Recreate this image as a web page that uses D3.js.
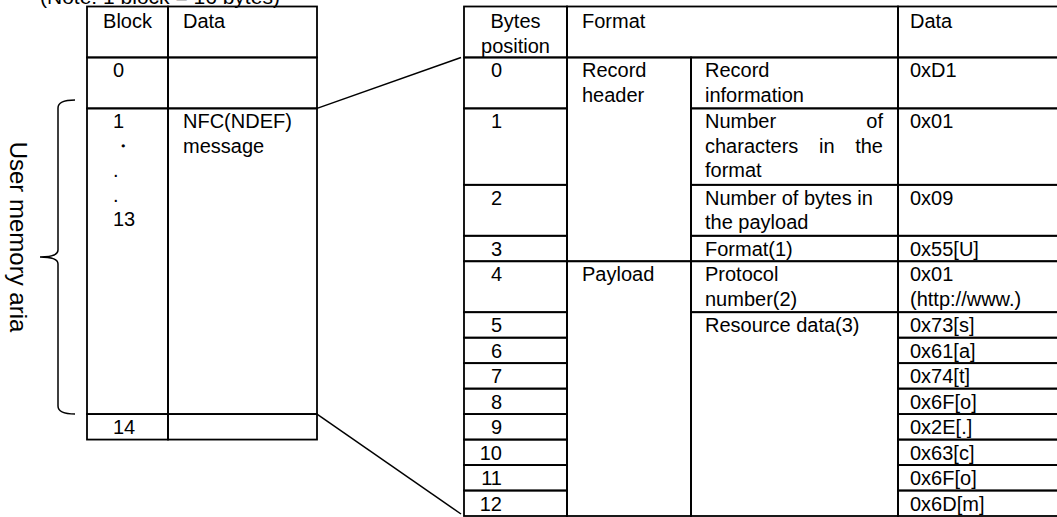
<!DOCTYPE html>
<html>
<head>
<meta charset="utf-8">
<script src="https://cdn.jsdelivr.net/npm/d3@7"></script>
<style>
  html, body { margin: 0; padding: 0; background: #fff; }
  svg { display: block; }
  text { font-family: "Liberation Sans", Arial, sans-serif; fill: #000; }
</style>
</head>
<body>
<svg id="chart" width="1057" height="517"></svg>
<script>
// ---------------- data ----------------
const noteText = "(Note: 1 block = 16 bytes)";
const sideLabel = "User memory aria";

// left table (memory blocks)
const blockHeader = ["Block", "Data"];
const blockLabels = [["0"], ["1", "・", ".", ".", "13"], ["14"]];
const blockData = [[], ["NFC(NDEF)", "message"], []];
const blockUnits = [2, 12, 1];

// right table (NDEF record)
const recHeader = [["Bytes", "position"], ["Format"], ["Data"]];
const bytePositions = ["0","1","2","3","4","5","6","7","8","9","10","11","12"];
const rowUnits = [2, 3, 2, 1, 2, 1, 1, 1, 1, 1, 1, 1, 1];
const formatGroups = [
  { lines: ["Record", "header"], from: 0, to: 3 },
  { lines: ["Payload"], from: 4, to: 12 }
];
const formatItems = [
  { lines: ["Record", "information"], from: 0, to: 0 },
  { lines: ["Number of", "characters in the", "format"], from: 1, to: 1, justify: true },
  { lines: ["Number of bytes in", "the payload"], from: 2, to: 2 },
  { lines: ["Format(1)"], from: 3, to: 3 },
  { lines: ["Protocol", "number(2)"], from: 4, to: 4 },
  { lines: ["Resource data(3)"], from: 5, to: 12 }
];
const dataValues = [
  ["0xD1"], ["0x01"], ["0x09"], ["0x55[U]"], ["0x01", "(http://www.)"],
  ["0x73[s]"], ["0x61[a]"], ["0x74[t]"], ["0x6F[o]"], ["0x2E[.]"],
  ["0x63[c]"], ["0x6F[o]"], ["0x6D[m]"]
];

// ---------------- layout ----------------
const svg = d3.select("#chart");
const FS = 20, LINE = 24.5, FIRST = 20, SW = 1.8;
const y = d3.scaleLinear().domain([0, 20]).range([6.5, 516]);
const leftCols = [87, 168, 317];
const rightCols = [464, 567, 691, 898, 1058];
const PAD = 14;

function cell(x0, x1, y0, y1) {
  svg.append("rect").attr("x", x0).attr("y", y0)
    .attr("width", x1 - x0).attr("height", y1 - y0)
    .attr("fill", "none").attr("stroke", "#000").attr("stroke-width", SW);
}
function lines(arr, x, top, anchor, justifyRight) {
  arr.forEach((s, i) => {
    const by = top + FIRST + i * LINE;
    const words = s.split(" ");
    if (justifyRight && i < arr.length - 1 && words.length > 1) {
      const nodes = words.map(w => svg.append("text").attr("y", by)
        .attr("font-size", FS).text(w));
      const widths = nodes.map(n => n.node().getComputedTextLength());
      const total = d3.sum(widths);
      const gap = (justifyRight - x - total) / (words.length - 1);
      let cx = x;
      nodes.forEach((n, k) => { n.attr("x", cx); cx += widths[k] + gap; });
    } else {
      svg.append("text").attr("x", x).attr("y", by)
        .attr("font-size", FS).attr("text-anchor", anchor || "start").text(s);
    }
  });
}

// cumulative row tops for right table (in units)
const rowStart = [];
rowUnits.reduce((acc, u, i) => { rowStart[i] = acc; return acc + u; }, 2);
const rowEnd = rowStart.map((s, i) => s + rowUnits[i]);

// note
svg.append("text").attr("x", 40).attr("y", 4).attr("font-size", 21).text(noteText);

// ---------- left table ----------
cell(leftCols[0], leftCols[1], y(0), y(2));
cell(leftCols[1], leftCols[2], y(0), y(2));
lines([blockHeader[0]], (leftCols[0] + leftCols[1]) / 2, y(0) + 1.5, "middle");
lines([blockHeader[1]], leftCols[1] + 15, y(0) + 1.5);
let acc = 2;
blockUnits.forEach((u, i) => {
  cell(leftCols[0], leftCols[1], y(acc), y(acc + u));
  cell(leftCols[1], leftCols[2], y(acc), y(acc + u));
  lines(blockLabels[i], leftCols[0] + 26, y(acc));
  lines(blockData[i], leftCols[1] + 15, y(acc));
  acc += u;
});

// brace + side label
const bTop = y(4) - 8.5, bBot = y(16), bMid = (bTop + bBot) / 2;
const bx = 58, bR = 75, bL = 40;
svg.append("path")
  .attr("d", `M${bR},${bTop} Q${bx},${bTop} ${bx},${bTop + 8} L${bx},${bMid - 7} Q${bx},${bMid} ${bL},${bMid} Q${bx},${bMid} ${bx},${bMid + 7} L${bx},${bBot - 8} Q${bx},${bBot} ${bR},${bBot}`)
  .attr("fill", "none").attr("stroke", "#000").attr("stroke-width", 1.5);
svg.append("text").attr("font-size", 24).attr("text-anchor", "middle")
  .attr("transform", `translate(10,${bMid - 20}) rotate(90)`).text(sideLabel);

// connectors
svg.append("line").attr("x1", leftCols[2]).attr("y1", y(4))
  .attr("x2", rightCols[0] - 3).attr("y2", y(2))
  .attr("stroke", "#000").attr("stroke-width", 1.5);
svg.append("line").attr("x1", leftCols[2]).attr("y1", y(16))
  .attr("x2", rightCols[0] - 3).attr("y2", y(20) - 2)
  .attr("stroke", "#000").attr("stroke-width", 1.5);

// ---------- right table ----------
// header
cell(rightCols[0], rightCols[1], y(0), y(2));
cell(rightCols[1], rightCols[3], y(0), y(2));
cell(rightCols[3], rightCols[4], y(0), y(2));
lines(recHeader[0], (rightCols[0] + rightCols[1]) / 2, y(0) + 1.5, "middle");
lines(recHeader[1], rightCols[1] + 15, y(0) + 1.5);
lines(recHeader[2], rightCols[3] + 12, y(0) + 1.5);

// byte position + data columns
bytePositions.forEach((b, i) => {
  cell(rightCols[0], rightCols[1], y(rowStart[i]), y(rowEnd[i]));
  cell(rightCols[3], rightCols[4], y(rowStart[i]), y(rowEnd[i]));
  lines([b], rightCols[0] + 38, y(rowStart[i]), "end");
  lines(dataValues[i], rightCols[3] + 12, y(rowStart[i]));
});
// format groups
formatGroups.forEach(g => {
  cell(rightCols[1], rightCols[2], y(rowStart[g.from]), y(rowEnd[g.to]));
  lines(g.lines, rightCols[1] + 15, y(rowStart[g.from]));
});
// format items
formatItems.forEach(f => {
  cell(rightCols[2], rightCols[3], y(rowStart[f.from]), y(rowEnd[f.to]));
  lines(f.lines, rightCols[2] + PAD, y(rowStart[f.from]), "start",
        f.justify ? rightCols[3] - 15 : null);
});
</script>
</body>
</html>
